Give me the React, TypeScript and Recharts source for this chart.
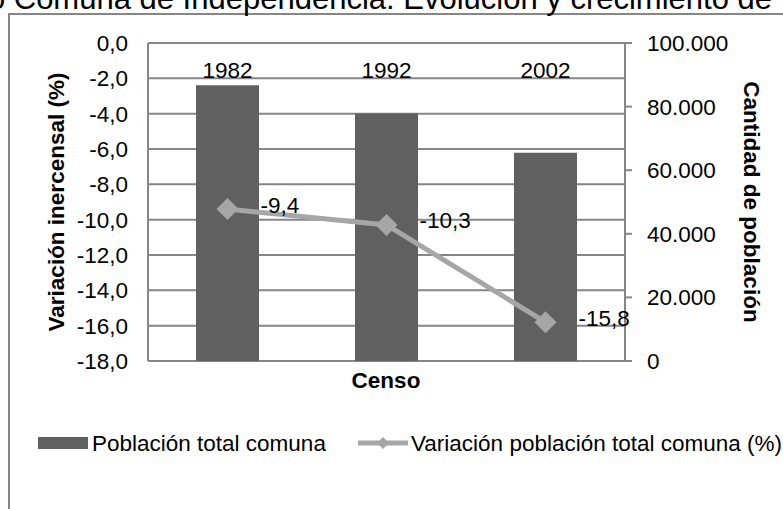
import React from 'react';
import { ComposedChart, Bar, Line, XAxis, YAxis, CartesianGrid, Legend, LabelList } from 'recharts';

const years = ['1982', '1992', '2002'];
const population = [86700, 77800, 65500];
const variation = [-9.4, -10.3, -15.8];
const leftTicks = [0, -2, -4, -6, -8, -10, -12, -14, -16, -18];
const rightTicks = [0, 20000, 40000, 60000, 80000, 100000];

const seriesNames = { bar: 'Población total comuna', line: 'Variación población total comuna (%)' };
const titleText = 'o Comuna de Independencia: Evolución y crecimiento de';
const leftTitle = 'Variación inercensal (%)';
const rightTitle = 'Cantidad de población';
const xTitle = 'Censo';

const data = years.map((y, i) => ({ year: y, population: population[i], variation: variation[i] }));

const W = 783;
const H = 509;
const PLOT_LEFT = 148;
const PLOT_RIGHT = 625;
const PLOT_TOP = 43;
const PLOT_BOTTOM = 361;
const AXIS_W = 100;
const X_AXIS_H = 20;
const FONT = '"Liberation Sans", Arial, sans-serif';
const FS = 22.5;
const GRID = '#868686';
const BAR = '#606060';
const LINE = '#A6A6A6';

const fmtPct = (v: number) => v.toFixed(1).replace('.', ',');
const fmtThousands = (v: number) => String(v).replace(/\B(?=(\d{3})+(?!\d))/g, '.');

const XTick = (props: any) => (
  <text x={props.x} y={PLOT_TOP + 35} textAnchor="middle" fontSize={FS} fontFamily={FONT} fill="#000">
    {props.payload && props.payload.value}
  </text>
);

const Diamond = (props: any) => {
  const { cx, cy } = props;
  if (cx == null || cy == null) return null;
  const r = 11;
  return <path d={`M${cx},${cy - r} L${cx + r},${cy} L${cx},${cy + r} L${cx - r},${cy} Z`} fill={LINE} />;
};

const PointLabel = (props: any) => {
  const { x, y, value } = props;
  return (
    <text x={x + 33} y={y - 4} fontSize={FS} fontFamily={FONT} fill="#000" dominantBaseline="central">
      {fmtPct(Number(value))}
    </text>
  );
};

const LegendContent = (props: any) => {
  const payload = props.payload || [];
  const barItem = payload.find((p: any) => p.dataKey === 'population');
  const lineItem = payload.find((p: any) => p.dataKey === 'variation');
  return (
    <svg width={W} height={30} style={{ display: 'block' }}>
      <rect x={38} y={9} width={50} height={12} fill={BAR} />
      <text x={92} y={15} fontSize={FS} fontFamily={FONT} fill="#000" dominantBaseline="central">
        {barItem ? barItem.value : seriesNames.bar}
      </text>
      <line x1={358} y1={15} x2={408} y2={15} stroke={LINE} strokeWidth={5} />
      <path d="M383,9 L389,15 L383,21 L377,15 Z" fill={LINE} />
      <text x={411} y={15} fontSize={FS} fontFamily={FONT} fill="#000" dominantBaseline="central">
        {lineItem ? lineItem.value : seriesNames.line}
      </text>
    </svg>
  );
};

export default function App() {
  return (
    <div style={{ position: 'absolute', left: 0, top: 0, width: W, height: H, overflow: 'hidden', background: '#fff' }}>
      <svg width={W} height={H} style={{ position: 'absolute', left: 0, top: 0 }}>
        <rect x={9} y={14} width={900} height={600} fill="none" stroke={GRID} strokeWidth={2} />
        <text x={772} y={9} textAnchor="end" fontSize={31} fontFamily={FONT} fill="#000">
          {titleText}
        </text>
        <text
          x={56}
          y={202}
          transform="rotate(-90 56 202)"
          textAnchor="middle"
          dominantBaseline="central"
          fontSize={FS}
          fontWeight="bold"
          fontFamily={FONT}
          fill="#000"
        >
          {leftTitle}
        </text>
        <text
          x={751}
          y={202}
          transform="rotate(90 751 202)"
          textAnchor="middle"
          dominantBaseline="central"
          fontSize={FS}
          fontWeight="bold"
          fontFamily={FONT}
          fill="#000"
        >
          {rightTitle}
        </text>
        <text x={386} y={380} textAnchor="middle" dominantBaseline="central" fontSize={FS} fontWeight="bold" fontFamily={FONT} fill="#000">
          {xTitle}
        </text>
      </svg>
      <ComposedChart
        width={W}
        height={H}
        data={data}
        margin={{ top: PLOT_TOP - X_AXIS_H, left: PLOT_LEFT - AXIS_W, right: W - PLOT_RIGHT - AXIS_W, bottom: H - PLOT_BOTTOM }}
        style={{ position: 'absolute', left: 0, top: 0 }}
      >
        <CartesianGrid yAxisId="left" vertical={false} stroke={GRID} strokeWidth={2} />
        <XAxis
          dataKey="year"
          orientation="top"
          height={X_AXIS_H}
          interval={0}
          tickLine={false}
          axisLine={{ stroke: GRID, strokeWidth: 2 }}
          tick={XTick}
        />
        <YAxis
          yAxisId="left"
          orientation="left"
          width={AXIS_W}
          domain={[-18, 0]}
          ticks={leftTicks}
          interval={0}
          tickFormatter={fmtPct}
          tickLine={false}
          tickMargin={14}
          axisLine={{ stroke: GRID, strokeWidth: 2 }}
          tick={{ fontSize: FS, fill: '#000', fontFamily: FONT }}
        />
        <YAxis
          yAxisId="right"
          orientation="right"
          width={AXIS_W}
          domain={[0, 100000]}
          ticks={rightTicks}
          interval={0}
          tickFormatter={fmtThousands}
          tickSize={7}
          tickMargin={15}
          tickLine={{ stroke: GRID, strokeWidth: 2 }}
          axisLine={{ stroke: GRID, strokeWidth: 2 }}
          tick={{ fontSize: FS, fill: '#000', fontFamily: FONT, textAnchor: 'start' }}
        />
        <Bar yAxisId="right" dataKey="population" name={seriesNames.bar} fill={BAR} barSize={63} isAnimationActive={false} />
        <Line
          yAxisId="left"
          dataKey="variation"
          name={seriesNames.line}
          stroke={LINE}
          strokeWidth={5}
          dot={<Diamond />}
          activeDot={false}
          isAnimationActive={false}
        >
          <LabelList dataKey="variation" content={<PointLabel />} />
        </Line>
        <Legend
          layout="horizontal"
          align="center"
          verticalAlign="middle"
          content={<LegendContent />}
          wrapperStyle={{ left: 0, top: 428, width: W, height: 30 }}
        />
      </ComposedChart>
    </div>
  );
}
